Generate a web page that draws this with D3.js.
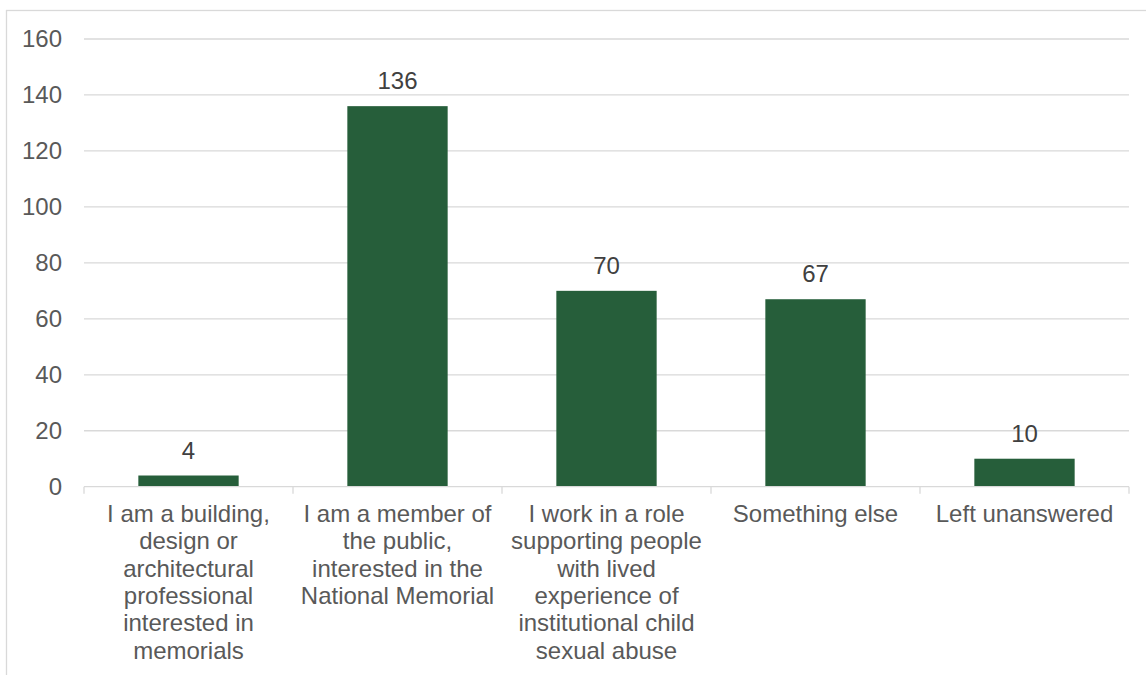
<!DOCTYPE html>
<html>
<head>
<meta charset="utf-8">
<script src="https://cdn.jsdelivr.net/npm/d3@7"></script>
<style>
  html, body { margin: 0; padding: 0; background: #ffffff; }
  svg { display: block; font-family: "Liberation Sans", Arial, sans-serif; }
</style>
</head>
<body>
<svg id="chart" width="1146" height="675"></svg>
<script>
// Respondent groups (line breaks mark how each axis label wraps)
const categories = [
  "I am a building,\ndesign or\narchitectural\nprofessional\ninterested in\nmemorials",
  "I am a member of\nthe public,\ninterested in the\nNational Memorial",
  "I work in a role\nsupporting people\nwith lived\nexperience of\ninstitutional child\nsexual abuse",
  "Something else",
  "Left unanswered"
];
const counts = [4, 136, 70, 67, 10];
const yTicks = [0, 20, 40, 60, 80, 100, 120, 140, 160];

const svg = d3.select("#chart");
const textColor = "#595959";
const gridColor = "#D9D9D9";
const barColor = "#265E3A";
const fontSize = 24;

// Chart frame (extends past the right and bottom of the view)
svg.append("rect")
  .attr("x", 6.5).attr("y", 10.5)
  .attr("width", 1160).attr("height", 700)
  .attr("fill", "none")
  .attr("stroke", gridColor)
  .attr("stroke-width", 1.3);

const plot = { left: 84, right: 1129, top: 39, bottom: 486.7 };

const x = d3.scaleBand()
  .domain(d3.range(categories.length))
  .range([plot.left, plot.right])
  .paddingInner(0)
  .paddingOuter(0);

const y = d3.scaleLinear()
  .domain([0, 160])
  .range([plot.bottom, plot.top]);

// Horizontal gridlines
svg.append("g")
  .selectAll("line")
  .data(yTicks.filter(d => d !== 0))
  .join("line")
  .attr("x1", plot.left).attr("x2", plot.right)
  .attr("y1", d => y(d)).attr("y2", d => y(d))
  .attr("stroke", gridColor)
  .attr("stroke-width", 1.3);

// Y axis labels
const yAxis = d3.axisLeft(y).tickValues(yTicks).tickSize(0).tickPadding(22);
const gy = svg.append("g")
  .attr("transform", `translate(${plot.left},0)`)
  .call(yAxis);
gy.select(".domain").remove();
gy.selectAll("text")
  .attr("fill", textColor)
  .attr("font-size", fontSize)
  .attr("font-family", "Liberation Sans, Arial, sans-serif");

// Bars
const barWidth = x.bandwidth() * 0.48;
svg.append("g")
  .selectAll("rect")
  .data(counts)
  .join("rect")
  .attr("x", (d, i) => x(i) + (x.bandwidth() - barWidth) / 2)
  .attr("y", d => y(d))
  .attr("width", barWidth)
  .attr("height", d => y(0) - y(d))
  .attr("fill", barColor);

// Category axis line with boundary ticks
const gx = svg.append("g");
gx.append("line")
  .attr("x1", plot.left).attr("x2", plot.right)
  .attr("y1", y(0)).attr("y2", y(0))
  .attr("stroke", gridColor)
  .attr("stroke-width", 1.3);
gx.selectAll("line.tick")
  .data(d3.range(categories.length + 1))
  .join("line")
  .attr("class", "tick")
  .attr("x1", i => plot.left + i * x.step())
  .attr("x2", i => plot.left + i * x.step())
  .attr("y1", y(0)).attr("y2", y(0) + 7)
  .attr("stroke", gridColor)
  .attr("stroke-width", 1.3);

// Wrapped category labels
const lineHeight = 27.3;
gx.selectAll("text.cat")
  .data(categories)
  .join("text")
  .attr("class", "cat")
  .attr("text-anchor", "middle")
  .attr("fill", textColor)
  .attr("font-size", fontSize)
  .each(function (d, i) {
    const t = d3.select(this);
    d.split("\n").forEach((line, k) => {
      t.append("tspan")
        .attr("x", x(i) + x.bandwidth() / 2)
        .attr("y", 522 + k * lineHeight)
        .text(line);
    });
  });

// Value labels above bars
svg.append("g")
  .selectAll("text")
  .data(counts)
  .join("text")
  .attr("x", (d, i) => x(i) + x.bandwidth() / 2)
  .attr("y", d => y(d) - 17)
  .attr("text-anchor", "middle")
  .attr("fill", "#404040")
  .attr("font-size", fontSize)
  .text(d => d);
</script>
</body>
</html>
